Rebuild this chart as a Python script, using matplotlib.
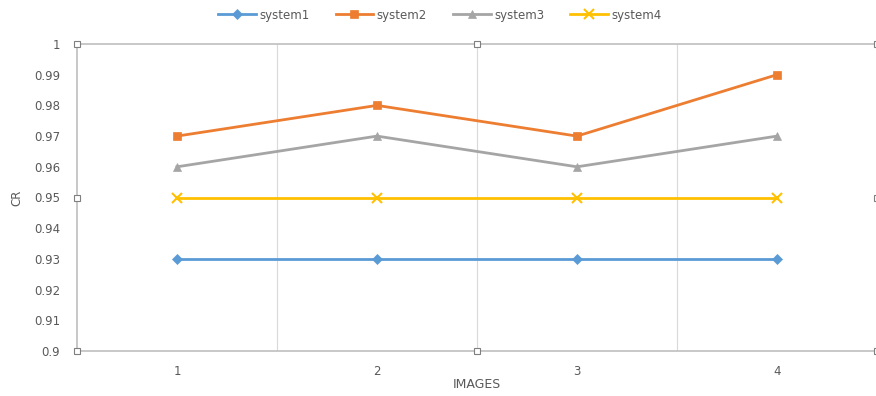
import numpy as np
import matplotlib.pyplot as plt

# series values per image
images = [1, 2, 3, 4]
system1 = [0.93, 0.93, 0.93, 0.93]
system2 = [0.97, 0.98, 0.97, 0.99]
system3 = [0.96, 0.97, 0.96, 0.97]
system4 = [0.95, 0.95, 0.95, 0.95]
yticks = [0.9, 0.91, 0.92, 0.93, 0.94, 0.95, 0.96, 0.97, 0.98, 0.99, 1]
ytick_labels = ['0.9', '0.91', '0.92', '0.93', '0.94', '0.95', '0.96', '0.97', '0.98', '0.99', '1']

plt.rcParams['font.family'] = ['DejaVu Sans']
fig = plt.figure(figsize=(8.76, 3.96), dpi=100)
# plot area: left 77px, right 877px, top 44px, bottom 351px
ax = fig.add_axes([77 / 876, 1 - 351 / 396, 800 / 876, 307 / 396])

styles = [
    (system1, 'system1', '#5B9BD5', 'D', 5),
    (system2, 'system2', '#ED7D31', 's', 6),
    (system3, 'system3', '#A5A5A5', '^', 6),
    (system4, 'system4', '#FFC000', 'x', 7),
]
for vals, name, col, mk, ms in styles:
    ax.plot(images, vals, color=col, lw=2, marker=mk, markersize=ms,
            markeredgewidth=1.5 if mk == 'x' else 0.5, label=name, zorder=3)

ax.set_xlim(0.5, 4.5)
ax.set_ylim(0.9, 1.0)
ax.set_yticks(yticks)
ax.set_yticklabels(ytick_labels)
ax.set_xticks(images)
ax.tick_params(axis='both', length=0, colors='#595959', labelsize=8.5)
ax.tick_params(axis='y', pad=12)
ax.tick_params(axis='x', pad=10)

# vertical gridlines between categories
for xg in [1.5, 2.5, 3.5]:
    ax.axvline(xg, color='#D9D9D9', lw=0.8, zorder=1)

for side in ['left', 'bottom', 'top', 'right']:
    ax.spines[side].set_color('#BFBFBF')
    ax.spines[side].set_linewidth(1.2)

# selection handles around the plot area
hx = [0, 0.5, 1, 0, 1, 0, 0.5, 1]
hy = [1, 1, 1, 0.5, 0.5, 0, 0, 0]
ax.plot(hx, hy, linestyle='none', marker='s', markersize=5, markerfacecolor='white',
        markeredgecolor='#7F7F7F', markeredgewidth=0.8, transform=ax.transAxes,
        clip_on=False, zorder=5)

ax.set_ylabel('CR', color='#595959', fontsize=8.5, labelpad=8)
ax.set_xlabel('IMAGES', color='#595959', fontsize=9)
ax.xaxis.set_label_coords(0.5, -27 / 307)

ax.legend(loc='center', bbox_to_anchor=(440 / 876, 1 - 15 / 396), bbox_transform=fig.transFigure,
          ncol=4, frameon=False, fontsize=8.5, handlelength=3.2, columnspacing=2.2,
          labelcolor='#595959', handletextpad=0.3)

fig.savefig('out.png', dpi=100)
